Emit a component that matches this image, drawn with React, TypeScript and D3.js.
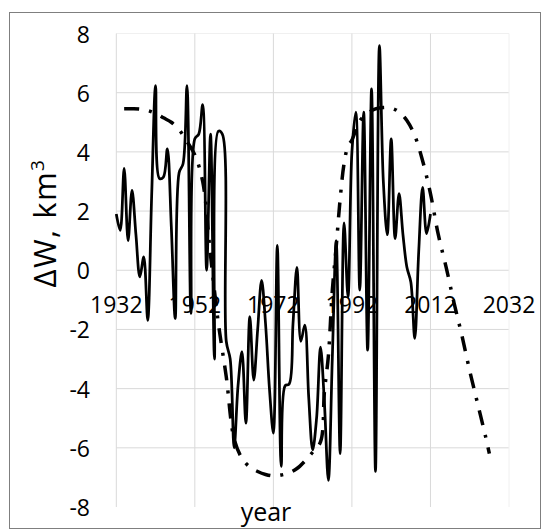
import React from 'react';
import * as d3 from 'd3';

// observed yearly storage change, km3
const W_YEARS = [
  1932, 1933, 1934, 1935, 1936, 1937, 1938, 1939, 1940, 1941,
  1942, 1943, 1944, 1945, 1946, 1947, 1948, 1949, 1950, 1951,
  1952, 1953, 1954, 1955, 1956, 1957, 1958, 1959, 1960, 1961,
  1962, 1963, 1964, 1965, 1966, 1967, 1968, 1969, 1970, 1971,
  1972, 1973, 1974, 1975, 1976, 1977, 1978, 1979, 1980, 1981,
  1982, 1983, 1984, 1985, 1986, 1987, 1988, 1989, 1990, 1991,
  1992, 1993, 1994, 1995, 1996, 1997, 1998, 1999, 2000, 2001,
  2002, 2003, 2004, 2005, 2006, 2007, 2008, 2009, 2010, 2011,
  2012,
];
const W_VALUES = [
  1.9, 1.35, 3.44, 1.0, 2.7, 1.2, -0.22, 0.45, -1.69, 2.5,
  6.24, 3.1, 3.15, 4.1, 1.5, -1.63, 3.3, 3.6, 6.24, -1.46,
  4.44, 4.6, 5.6, 0.0, 4.6, -3.0, 4.7, 4.6, -2.4, -3.0,
  -6.0, -3.9, -2.75, -5.17, -1.57, -3.71, -2.0, -0.34, -1.8, -4.0,
  -5.5, 0.84, -6.63, -3.9, -3.85, -1.8, 0.1, -2.4, -1.85, -4.3,
  -6.07, -5.0, -2.6, -4.5, -7.1, -3.0, 1.0, -6.2, 1.6, -0.9,
  4.0, 5.34, -0.67, 5.34, -2.7, 6.13, -6.8, 7.59, 3.0, 1.2,
  4.44, 1.07, 2.59, 1.2, 0.1, -0.4, -2.3, 0.6, 2.8, 1.24,
  1.9,
];

// fitted cycle + forecast
const MODEL_YEARS = [
  1934, 1936, 1938, 1940, 1942, 1944, 1946, 1948, 1950, 1952,
  1954, 1956, 1958, 1960, 1962, 1964, 1966, 1968, 1970, 1972,
  1974, 1976, 1978, 1980, 1982, 1984, 1985, 1986, 1987, 1988,
  1989, 1990, 1991, 1992, 1994, 1996, 1998, 2000, 2002, 2004,
  2006, 2008, 2010, 2012, 2014, 2016, 2018, 2020, 2022, 2024,
  2026, 2027,
];
const MODEL_VALUES = [
  5.46, 5.46, 5.45, 5.4, 5.3, 5.15, 5.0, 4.75, 4.35, 3.9,
  3.0, 0.5, -1.8, -3.6, -5.7, -6.35, -6.65, -6.8, -6.9, -6.95,
  -6.92, -6.85, -6.7, -6.45, -6.15, -5.8, -4.1, -2.9, -0.7, 0.8,
  2.4, 3.6, 4.2, 4.4, 5.05, 5.3, 5.45, 5.5, 5.48, 5.35,
  5.06, 4.55, 3.7, 2.59, 1.2, 0.1, -1.1, -2.2, -3.4, -4.5,
  -5.6, -6.2,
];

const X_TICKS = [1932, 1952, 1972, 1992, 2012, 2032];
const Y_TICKS = [-8, -6, -4, -2, 0, 2, 4, 6, 8];

const FONT = '"Open Sans", "Liberation Sans", sans-serif';

export default function App() {
  const width = 550;
  const height = 531;

  const x = d3.scaleLinear().domain([1932, 2032]).range([116.3, 509]);
  const y = d3.scaleLinear().domain([-8, 8]).range([507, 33.5]);

  const obs = d3.line<number>()
    .x((d, i) => x(W_YEARS[i]))
    .y(d => y(d))
    .curve(d3.curveCatmullRom)(W_VALUES);

  const model = d3.line<number>()
    .x((d, i) => x(MODEL_YEARS[i]))
    .y(d => y(d))
    .curve(d3.curveCatmullRom)(MODEL_VALUES);

  return (
    <svg width={width} height={height}
      style={{ position: 'absolute', left: 0, top: 0, background: '#fff', fontFamily: FONT }}>
      <rect x={9.5} y={12.5} width={531} height={516} fill="#fff" stroke="#7f7f7f" strokeWidth={1} />

      {/* grid */}
      {Y_TICKS.filter(t => t > -8).map(t => (
        <line key={'h' + t} x1={x(1932)} x2={x(2032)} y1={y(t)} y2={y(t)}
          stroke={t === 8 ? '#f0f0f0' : '#d9d9d9'} strokeWidth={1} />
      ))}
      {X_TICKS.map(t => (
        <line key={'v' + t} x1={x(t)} x2={x(t)} y1={y(8)} y2={y(-8)}
          stroke={t === 2032 ? '#f0f0f0' : '#d9d9d9'} strokeWidth={1} />
      ))}

      {/* tick labels */}
      {Y_TICKS.map(t => (
        <text key={'yl' + t} x={90} y={y(t) + 9} textAnchor="end" fontSize={23} fill="#000">{t}</text>
      ))}
      {X_TICKS.map(t => (
        <text key={'xl' + t} x={x(t)} y={y(0) + 43} textAnchor="middle" fontSize={23} fill="#000">{t}</text>
      ))}

      <path d={obs || ''} fill="none" stroke="#000" strokeWidth={2.75} strokeLinejoin="round" />
      <path d={model || ''} fill="none" stroke="#000" strokeWidth={3.5}
        strokeDasharray="15,10,3,10" />

      {/* titles */}
      <text transform="translate(56,223) rotate(-90)" textAnchor="middle" fontSize={31}
        letterSpacing={1.5} fill="#000">
        ΔW, km<tspan dy={-12} fontSize={19}>3</tspan>
      </text>
      <text x={266} y={521} textAnchor="middle" fontSize={25} fill="#000">year</text>
    </svg>
  );
}
